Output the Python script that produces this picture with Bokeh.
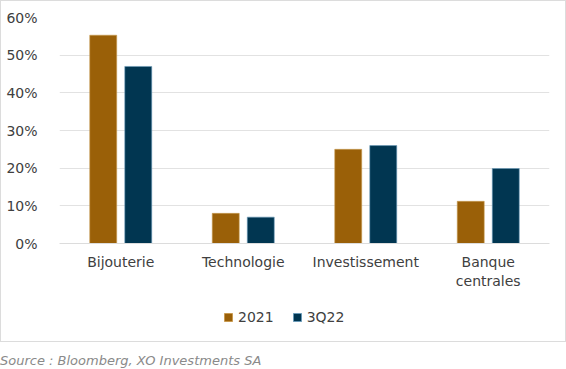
from bokeh.plotting import figure
from bokeh.models import ColumnDataSource, FactorRange, Legend, LegendItem, PrintfTickFormatter, FixedTicker, Div
from bokeh.transform import dodge
from bokeh.layouts import column
from bokeh.embed import file_html
from bokeh.resources import INLINE

categories = ["Bijouterie", "Technologie", "Investissement", "Banque\ncentrales"]
series_2021 = [55.3, 8.0, 25.0, 11.2]
series_3q22 = [47.0, 7.0, 26.0, 19.9]
y_ticks = [0, 10, 20, 30, 40, 50, 60]
series_names = ["2021", "3Q22"]
colors = ["#9A6008", "#013651"]
outlines = ["#c89a50", "#6a9ab8"]

FONT = "DejaVu Sans"
TXT = "#404040"

src = ColumnDataSource(dict(cat=categories, a=series_2021, b=series_3q22))

p = figure(x_range=FactorRange(*categories), y_range=(0, 60), width=564, height=292,
           output_backend="svg", toolbar_location=None,
           min_border_left=58, min_border_right=16, min_border_top=16, min_border_bottom=50)

p.vbar(x=dodge("cat", -0.143, range=p.x_range), top="a", width=0.22, source=src,
       fill_color=colors[0], line_color=outlines[0], line_width=0.6)
p.vbar(x=dodge("cat", 0.143, range=p.x_range), top="b", width=0.22, source=src,
       fill_color=colors[1], line_color=outlines[1], line_width=0.6)

p.outline_line_color = None
p.xgrid.grid_line_color = None
p.ygrid.grid_line_color = "#e2e2e2"
p.ygrid.grid_line_width = 1

p.yaxis.ticker = FixedTicker(ticks=y_ticks)
p.yaxis.formatter = PrintfTickFormatter(format="%d%%")
p.yaxis.axis_line_color = None
p.yaxis.major_tick_line_color = None
p.yaxis.minor_tick_line_color = None
p.yaxis.major_label_standoff = 16
p.yaxis.major_label_text_font = FONT
p.yaxis.major_label_text_font_size = "14px"
p.yaxis.major_label_text_color = TXT

p.xaxis.axis_line_color = "#dcdcdc"
p.xaxis.major_tick_line_color = None
p.xaxis.minor_tick_line_color = None
p.xaxis.major_label_standoff = 4
p.xaxis.major_label_text_font = FONT
p.xaxis.major_label_text_font_size = "14px"
p.xaxis.major_label_text_color = TXT

# legend strip: hidden renderers supply the swatches
lf = figure(width=564, height=48, output_backend="svg", toolbar_location=None,
            x_range=(0, 1), y_range=(0, 1),
            min_border_left=0, min_border_right=0, min_border_top=0, min_border_bottom=0)
lf.axis.visible = False
lf.grid.visible = False
lf.outline_line_color = None
hidden = ColumnDataSource(dict(x=[0.5], top=[1]))
l1 = lf.vbar(x="x", top="top", width=0.1, source=hidden, fill_color=colors[0], line_color=outlines[0])
l2 = lf.vbar(x="x", top="top", width=0.1, source=hidden, fill_color=colors[1], line_color=outlines[1])
l1.visible = False
l2.visible = False
legend = Legend(items=[LegendItem(label=series_names[0], renderers=[l1]),
                       LegendItem(label=series_names[1], renderers=[l2])],
                orientation="horizontal", location=(164, 16),
                border_line_color=None, background_fill_alpha=0,
                inactive_fill_alpha=0, padding=0, margin=0,
                glyph_width=10, glyph_height=10, spacing=18,
                label_text_font=FONT, label_text_font_size="14px",
                label_text_color=TXT, label_standoff=5)
lf.add_layout(legend, "center")

chart = column(p, lf, spacing=0, styles={"border": "1px solid #dcdcdc"})

note = Div(text="Source : Bloomberg, XO Investments SA", width=560, height=20,
           margin=(10, 0, 0, 0),
           styles={"font-family": FONT, "font-style": "italic", "font-size": "13px",
                   "color": "#8a8a8a"})

layout = column(chart, note, spacing=0)
open("out.html", "w").write(file_html(layout, INLINE))
